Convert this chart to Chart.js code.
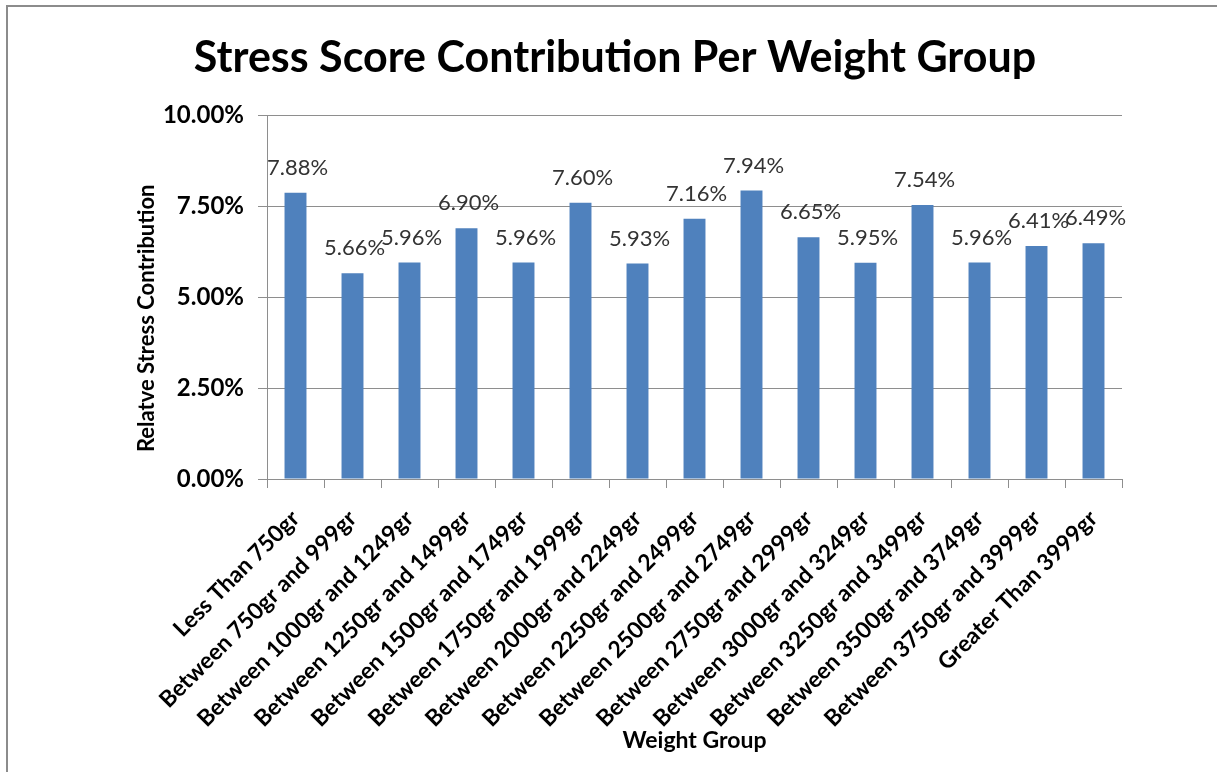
<!DOCTYPE html>
<html>
<head>
<meta charset="utf-8">
<script src="https://cdn.jsdelivr.net/npm/chart.js@4/dist/chart.umd.min.js"></script>
<style>
  html, body { margin: 0; padding: 0; background: #fff; overflow: hidden; }
  #frame { position: absolute; left: 6px; top: 5px; width: 1300px; height: 900px; border: 2px solid #8c8c8c; }
  #wrap { position: absolute; left: 0; top: 0; width: 1217px; height: 772px; }
</style>
</head>
<body>
<div id="frame"></div>
<div id="wrap"><canvas id="stressChart"></canvas></div>
<script>
const weightGroups = [
    "Less Than 750gr",
    "Between 750gr and 999gr",
    "Between 1000gr and 1249gr",
    "Between 1250gr and 1499gr",
    "Between 1500gr and 1749gr",
    "Between 1750gr and 1999gr",
    "Between 2000gr and 2249gr",
    "Between 2250gr and 2499gr",
    "Between 2500gr and 2749gr",
    "Between 2750gr and 2999gr",
    "Between 3000gr and 3249gr",
    "Between 3250gr and 3499gr",
    "Between 3500gr and 3749gr",
    "Between 3750gr and 3999gr",
    "Greater Than 3999gr"
];
const stressShare = [7.88, 5.66, 5.96, 6.90, 5.96, 7.60, 5.93, 7.16, 7.94, 6.65, 5.95, 7.54, 5.96, 6.41, 6.49];
const yTicks = [0, 2.5, 5, 7.5, 10];
const yTitle = "Relatve Stress Contribution";

const FONT = "Lato, 'Open Sans', sans-serif";
const GRID = "#8e8e8e";

// value labels above each bar + the y axis title (sits a bit below the axis middle, as in Excel)
const barLabels = {
    id: 'barLabels',
    afterDatasetsDraw(chart) {
        let ctx = chart.ctx;
        let meta = chart.getDatasetMeta(0);
        ctx.save();
        ctx.font = "22px " + FONT;
        ctx.fillStyle = "#333";
        ctx.textAlign = "center";
        ctx.textBaseline = "middle";
        meta.data.forEach((bar, i) => {
            ctx.fillText(stressShare[i].toFixed(2) + "%", bar.x + 2, bar.y - 25);
        });
        ctx.restore();
    },
    afterDraw(chart) {
        let ctx = chart.ctx;
        let area = chart.chartArea;
        ctx.save();
        ctx.translate(chart.scales.y.left + 39, (area.top + area.bottom) / 2 + 21);
        ctx.rotate(-Math.PI / 2);
        ctx.font = "bold 22px " + FONT;
        ctx.fillStyle = "#000";
        ctx.textAlign = "center";
        ctx.textBaseline = "middle";
        ctx.fillText(yTitle, 0, 0);
        ctx.restore();
    }
};

new Chart(document.getElementById("stressChart").getContext("2d"), {
    type: 'bar',
    data: {
        labels: weightGroups,
        datasets: [{
            label: 'Relative Stress Contribution',
            data: stressShare,
            backgroundColor: '#4f81bd',
            borderWidth: 0,
            barPercentage: 0.385,
            categoryPercentage: 1
        }]
    },
    plugins: [barLabels],
    options: {
        responsive: true,
        maintainAspectRatio: false,
        animation: false,
        layout: { padding: { left: 108, right: 95, top: 0, bottom: 14 } },
        plugins: {
            legend: { display: false },
            tooltip: { enabled: false },
            title: {
                display: true,
                text: 'Stress Score Contribution Per Weight Group',
                color: '#000',
                font: { family: FONT, size: 43, weight: 'bold' },
                padding: { top: 32, bottom: 32 }
            }
        },
        scales: {
            x: {
                grid: { display: true, drawOnChartArea: false, color: GRID, tickLength: 9, offset: true },
                border: { color: GRID },
                ticks: {
                    color: '#000',
                    font: { family: FONT, size: 23, weight: 'bold' },
                    minRotation: 45,
                    maxRotation: 45,
                    autoSkip: false,
                    padding: 17
                },
                title: {
                    display: true,
                    text: 'Weight Group',
                    color: '#000',
                    font: { family: FONT, size: 23, weight: 'bold' },
                    padding: { top: 0, bottom: 4 }
                },
                afterFit(scale) { scale.height = 279; }
            },
            y: {
                min: 0,
                max: 10,
                afterBuildTicks(scale) { scale.ticks = yTicks.map(v => ({ value: v })); },
                grid: { color: GRID, tickLength: 9 },
                border: { color: GRID },
                ticks: {
                    color: '#000',
                    font: { family: FONT, size: 24, weight: 'bold' },
                    padding: 14,
                    callback: v => v.toFixed(2) + '%'
                },
                afterFit(scale) { scale.width = 159; }
            }
        }
    }
});
</script>
</body>
</html>
